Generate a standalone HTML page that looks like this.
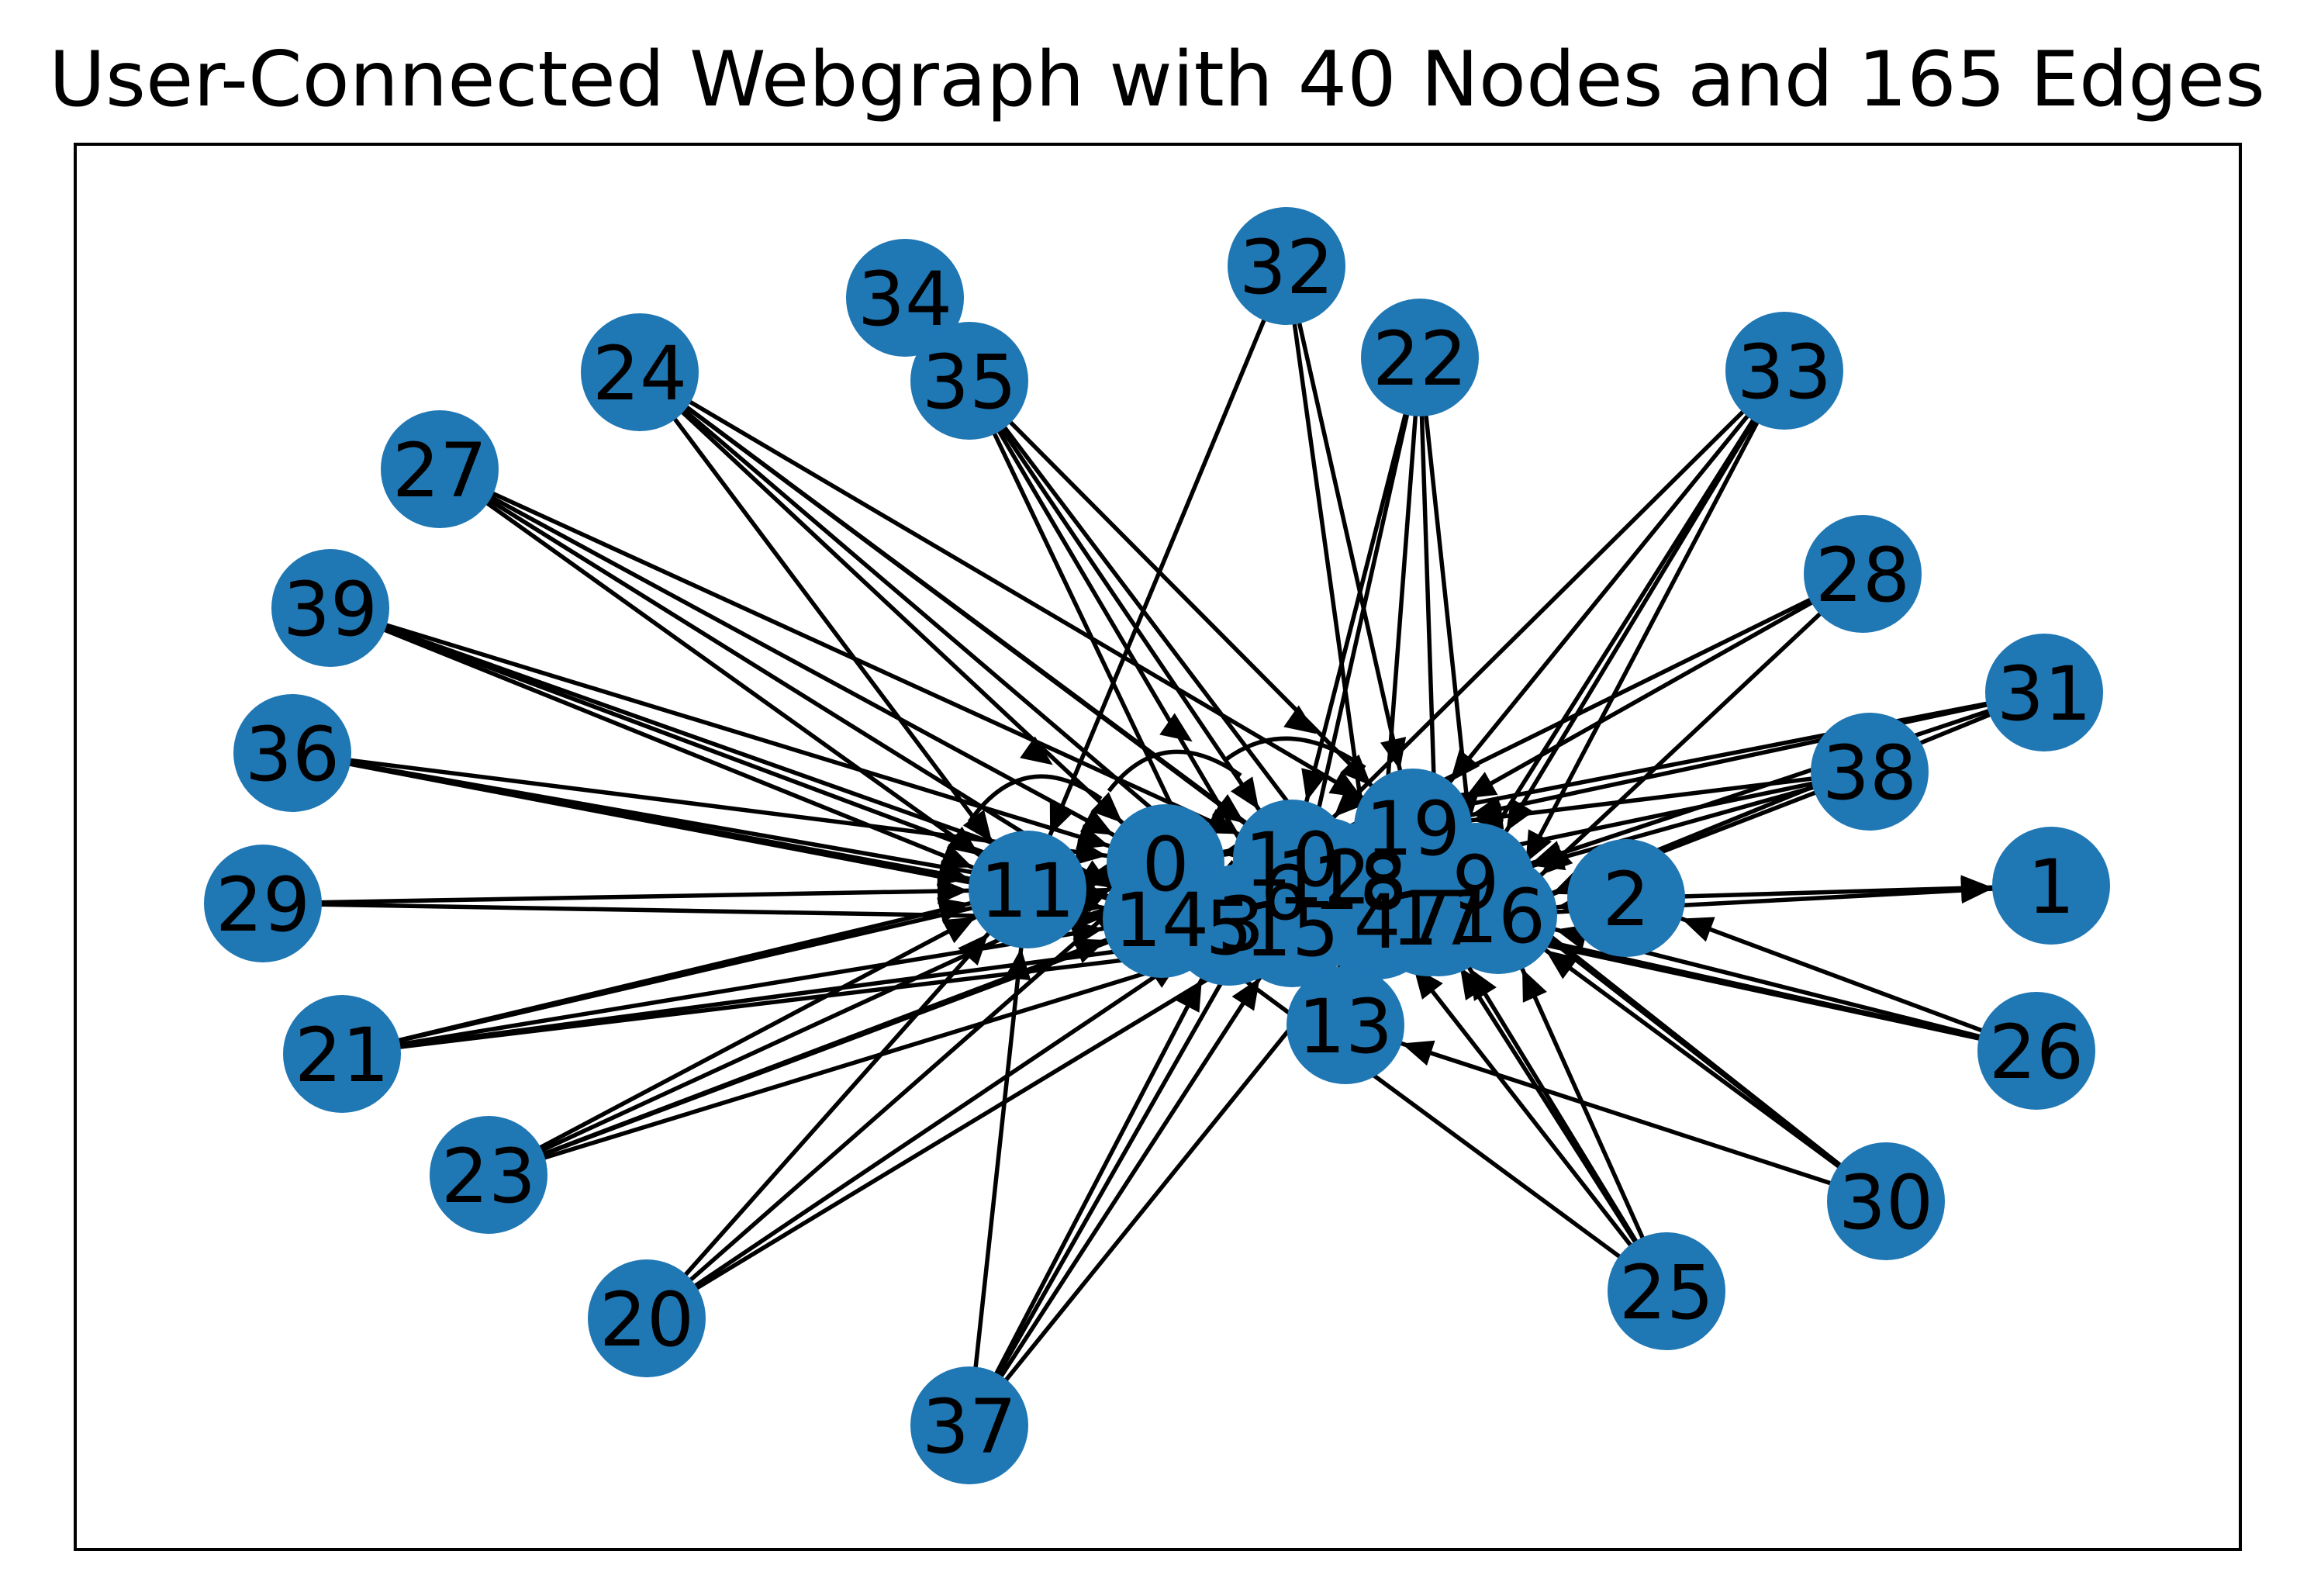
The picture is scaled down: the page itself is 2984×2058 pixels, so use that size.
<!DOCTYPE html>
<html><head><meta charset="utf-8"><style>html,body{margin:0;padding:0;background:#fff}svg{display:block}</style></head>
<body>
<svg width="2984" height="2058" viewBox="0 0 2984 2058" xmlns="http://www.w3.org/2000/svg">
<defs>
<marker id="a" markerUnits="userSpaceOnUse" markerWidth="200" markerHeight="80" viewBox="-60 -40 200 80" refX="76" refY="0" orient="auto">
<path d="M0,0 L-40,-17 L-40,17 Z" fill="#000"/>
</marker>
</defs>
<rect x="97" y="186" width="2792" height="1812" fill="none" stroke="#000" stroke-width="4"/>
<text x="1492" y="136" font-family="DejaVu Sans, Liberation Sans, sans-serif" font-size="98" text-anchor="middle" textLength="2858" lengthAdjust="spacingAndGlyphs">User-Connected Webgraph with 40 Nodes and 165 Edges</text>
<g stroke="#000" stroke-width="5.5" fill="none" marker-end="url(#a)">
<line x1="825" y1="480" x2="1503" y2="1113"/><line x1="825" y1="480" x2="1666" y2="1107"/><line x1="825" y1="480" x2="1666" y2="1197"/><line x1="825" y1="480" x2="1822" y2="1067"/><line x1="825" y1="480" x2="1776" y2="1187"/><line x1="825" y1="480" x2="1325" y2="1147"/>
<line x1="567" y1="605" x2="1503" y2="1113"/><line x1="567" y1="605" x2="1325" y2="1147"/><line x1="567" y1="605" x2="1498" y2="1185"/><line x1="567" y1="605" x2="1666" y2="1107"/>
<line x1="426" y1="784" x2="1503" y2="1113"/><line x1="426" y1="784" x2="1325" y2="1147"/><line x1="426" y1="784" x2="1498" y2="1185"/><line x1="426" y1="784" x2="1585" y2="1195"/>
<line x1="377" y1="971" x2="1503" y2="1113"/><line x1="377" y1="971" x2="1325" y2="1147"/><line x1="377" y1="971" x2="1498" y2="1185"/><line x1="377" y1="971" x2="1666" y2="1197"/>
<line x1="339" y1="1165" x2="1325" y2="1147"/><line x1="339" y1="1165" x2="1498" y2="1185"/>
<line x1="441" y1="1359" x2="1325" y2="1147"/><line x1="441" y1="1359" x2="1498" y2="1185"/><line x1="441" y1="1359" x2="1503" y2="1113"/><line x1="441" y1="1359" x2="1666" y2="1197"/><line x1="441" y1="1359" x2="1932" y2="1180"/>
<line x1="630" y1="1515" x2="1498" y2="1185"/><line x1="630" y1="1515" x2="1325" y2="1147"/><line x1="630" y1="1515" x2="1503" y2="1113"/><line x1="630" y1="1515" x2="1822" y2="1067"/><line x1="630" y1="1515" x2="1666" y2="1197"/>
<line x1="834" y1="1700" x2="1325" y2="1147"/><line x1="834" y1="1700" x2="1503" y2="1113"/><line x1="834" y1="1700" x2="1666" y2="1197"/><line x1="834" y1="1700" x2="1585" y2="1195"/>
<line x1="1250" y1="1838" x2="1325" y2="1147"/><line x1="1250" y1="1838" x2="1666" y2="1197"/><line x1="1250" y1="1838" x2="1585" y2="1195"/><line x1="1250" y1="1838" x2="1666" y2="1107"/><line x1="1250" y1="1838" x2="1776" y2="1187"/>
<line x1="2149" y1="1665" x2="1932" y2="1180"/><line x1="2149" y1="1665" x2="1776" y2="1187"/><line x1="2149" y1="1665" x2="1855" y2="1183"/><line x1="2149" y1="1665" x2="1842" y2="1183"/><line x1="2149" y1="1665" x2="1498" y2="1185"/>
<line x1="2432" y1="1549" x2="1932" y2="1180"/><line x1="2432" y1="1549" x2="1822" y2="1067"/><line x1="2432" y1="1549" x2="1903" y2="1137"/><line x1="2432" y1="1549" x2="1735" y2="1322"/>
<line x1="2626" y1="1355" x2="1932" y2="1180"/><line x1="2626" y1="1355" x2="2097" y2="1158"/><line x1="2626" y1="1355" x2="1503" y2="1113"/><line x1="2626" y1="1355" x2="1855" y2="1183"/>
<line x1="2636" y1="893" x2="1932" y2="1180"/><line x1="2636" y1="893" x2="1822" y2="1067"/><line x1="2636" y1="893" x2="1503" y2="1113"/><line x1="2636" y1="893" x2="1903" y2="1137"/>
<line x1="2411" y1="995" x2="1932" y2="1180"/><line x1="2411" y1="995" x2="1822" y2="1067"/><line x1="2411" y1="995" x2="1498" y2="1185"/><line x1="2411" y1="995" x2="1903" y2="1137"/>
<line x1="2402" y1="740" x2="1822" y2="1067"/><line x1="2402" y1="740" x2="1498" y2="1185"/><line x1="2402" y1="740" x2="1932" y2="1180"/>
<line x1="2301" y1="478" x2="1932" y2="1180"/><line x1="2301" y1="478" x2="1855" y2="1183"/><line x1="2301" y1="478" x2="1666" y2="1107"/><line x1="2301" y1="478" x2="1903" y2="1137"/><line x1="2301" y1="478" x2="1822" y2="1067"/>
<line x1="1831" y1="461" x2="1666" y2="1107"/><line x1="1831" y1="461" x2="1666" y2="1197"/><line x1="1831" y1="461" x2="1855" y2="1183"/><line x1="1831" y1="461" x2="1776" y2="1187"/><line x1="1831" y1="461" x2="1903" y2="1137"/>
<line x1="1659" y1="343" x2="1325" y2="1147"/><line x1="1659" y1="343" x2="1822" y2="1067"/><line x1="1659" y1="343" x2="1776" y2="1187"/>
<line x1="1250" y1="491" x2="1666" y2="1197"/><line x1="1250" y1="491" x2="1776" y2="1187"/><line x1="1250" y1="491" x2="1822" y2="1067"/><line x1="1250" y1="491" x2="1666" y2="1107"/><line x1="1250" y1="491" x2="1585" y2="1195"/>
<line x1="2097" y1="1158" x2="2645" y2="1142"/><line x1="1932" y1="1180" x2="2645" y2="1142"/>
<line x1="1503" y1="1113" x2="1325" y2="1147"/><line x1="1822" y1="1067" x2="1503" y2="1113"/><line x1="2097" y1="1158" x2="1932" y2="1180"/>
<path d="M1250,1060 Q1320,960 1420,1030" /><path d="M1430,1020 Q1500,930 1600,1000"/><path d="M1580,980 Q1660,920 1760,990"/>
</g>
<g fill="#1f77b4">
<circle cx="1167" cy="384" r="76"/><circle cx="1659" cy="343" r="76"/><circle cx="1831" cy="461" r="76"/><circle cx="2301" cy="478" r="76"/><circle cx="825" cy="480" r="76"/><circle cx="1250" cy="491" r="76"/><circle cx="567" cy="605" r="76"/><circle cx="2402" cy="740" r="76"/><circle cx="426" cy="784" r="76"/><circle cx="2636" cy="893" r="76"/><circle cx="377" cy="971" r="76"/><circle cx="2411" cy="995" r="76"/><circle cx="339" cy="1165" r="76"/><circle cx="2645" cy="1142" r="76"/><circle cx="441" cy="1359" r="76"/><circle cx="2626" cy="1355" r="76"/><circle cx="630" cy="1515" r="76"/><circle cx="2432" cy="1549" r="76"/><circle cx="2149" cy="1665" r="76"/><circle cx="834" cy="1700" r="76"/><circle cx="1250" cy="1838" r="76"/>
<circle cx="1325" cy="1147" r="76"/><circle cx="1503" cy="1113" r="76"/><circle cx="1498" cy="1185" r="76"/><circle cx="1585" cy="1195" r="76"/><circle cx="1600" cy="1190" r="76"/><circle cx="1656" cy="1150" r="76"/><circle cx="1666" cy="1107" r="76"/><circle cx="1666" cy="1197" r="76"/><circle cx="1707" cy="1130" r="76"/><circle cx="1753" cy="1137" r="76"/><circle cx="1784" cy="1133" r="76"/><circle cx="1776" cy="1187" r="76"/><circle cx="1842" cy="1183" r="76"/><circle cx="1855" cy="1183" r="76"/><circle cx="1822" cy="1067" r="76"/><circle cx="1903" cy="1137" r="76"/><circle cx="1932" cy="1180" r="76"/><circle cx="2097" cy="1158" r="76"/><circle cx="1735" cy="1322" r="76"/>
</g>
<g font-family="DejaVu Sans, Liberation Sans, sans-serif" font-size="96" text-anchor="middle" fill="#000">
<text x="1167" y="419">34</text><text x="1659" y="378">32</text><text x="1831" y="496">22</text><text x="2301" y="513">33</text><text x="825" y="515">24</text><text x="1250" y="526">35</text><text x="567" y="640">27</text><text x="2402" y="775">28</text><text x="426" y="819">39</text><text x="2636" y="928">31</text><text x="377" y="1006">36</text><text x="2411" y="1030">38</text><text x="339" y="1200">29</text><text x="2645" y="1177">1</text><text x="441" y="1394">21</text><text x="2626" y="1390">26</text><text x="630" y="1550">23</text><text x="2432" y="1584">30</text><text x="2149" y="1700">25</text><text x="834" y="1735">20</text><text x="1250" y="1873">37</text>
<text x="1325" y="1182">11</text><text x="1503" y="1148">0</text><text x="1498" y="1220">14</text><text x="1585" y="1230">5</text><text x="1600" y="1225">3</text><text x="1656" y="1185">6</text><text x="1666" y="1142">10</text><text x="1666" y="1232">15</text><text x="1707" y="1165">12</text><text x="1753" y="1172">18</text><text x="1784" y="1168">8</text><text x="1776" y="1222">4</text><text x="1842" y="1218">7</text><text x="1855" y="1218">17</text><text x="1822" y="1102">19</text><text x="1903" y="1172">9</text><text x="1932" y="1215">16</text><text x="2097" y="1193">2</text><text x="1735" y="1357">13</text>
</g>
</svg>
</body></html>
